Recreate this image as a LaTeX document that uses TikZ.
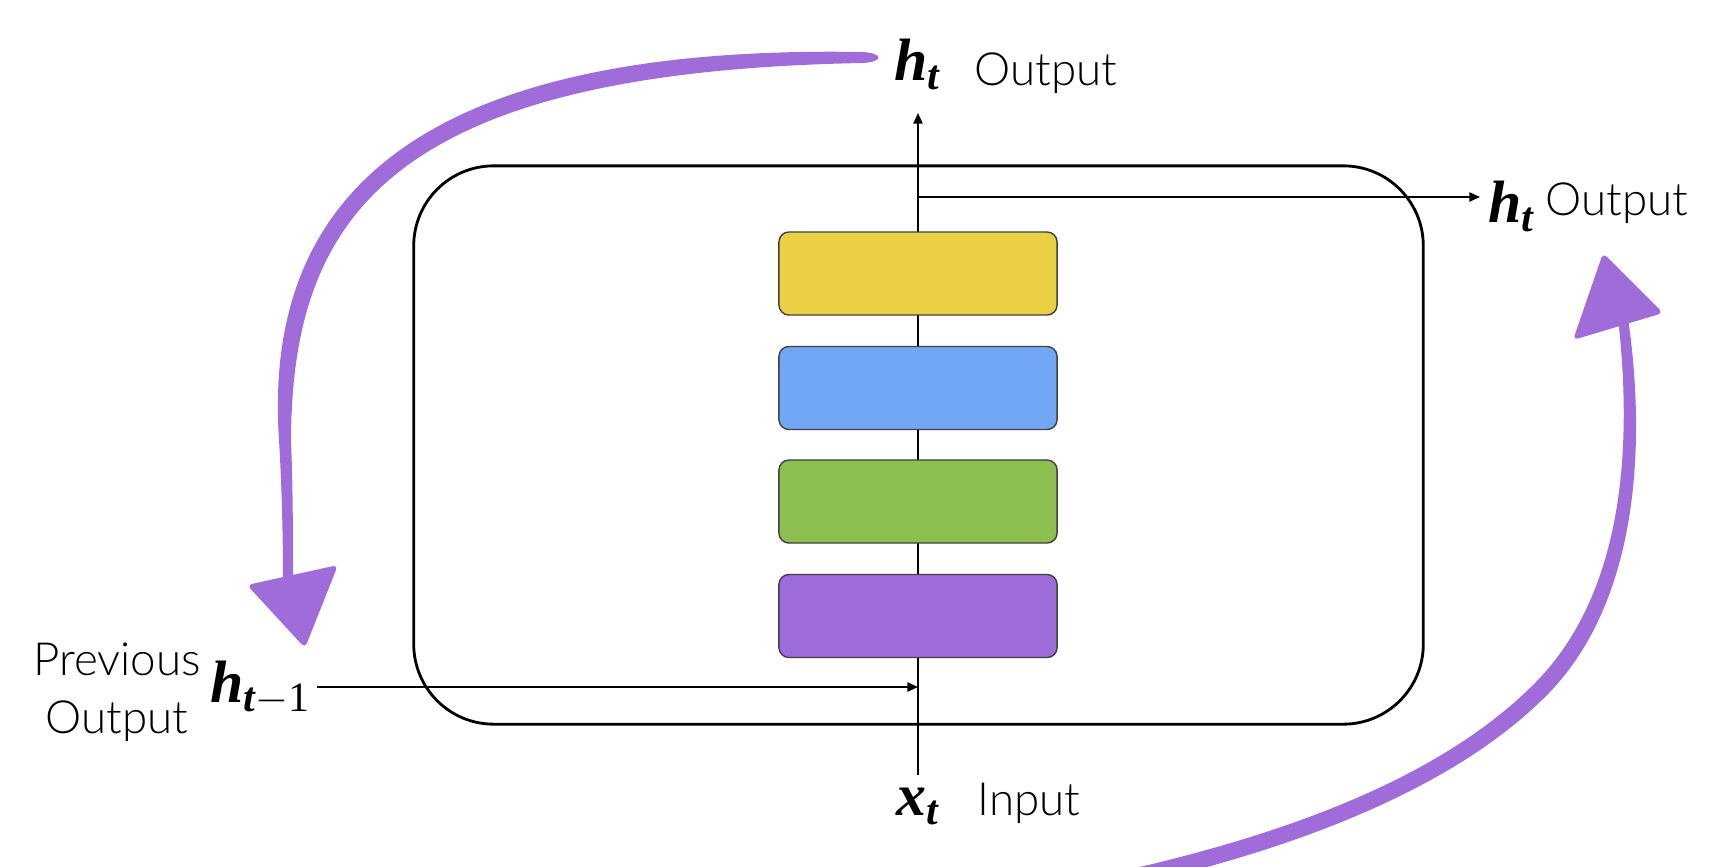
\documentclass[tikz,border=0pt]{standalone}
\usepackage{amsmath}
\usepackage{fontspec}
\usetikzlibrary{arrows.meta,positioning}
\IfFontExistsTF{Lato Light}{\newfontfamily\thinfont{Lato Light}}{\newfontfamily\thinfont{Lato}}
\newfontfamily\varfont{Liberation Serif}
\newcommand{\vsym}[1]{\text{\varfont\bfseries\itshape #1}}
\definecolor{gateyellow}{RGB}{234,208,66}
\definecolor{gateblue}{RGB}{114,167,245}
\definecolor{gategreen}{RGB}{140,190,80}
\definecolor{gatepurple}{RGB}{158,107,219}
\definecolor{brushpurple}{RGB}{160,108,218}

\begin{document}
\begin{tikzpicture}[x=0.01cm, y=-0.01cm,
    cell/.style={draw=black, line width=0.8pt, rounded corners=0.8cm, minimum width=10.09cm, minimum height=5.58cm},
    gate/.style={draw=black!75, line width=0.4pt, rounded corners=0.1cm, minimum width=2.78cm, minimum height=0.83cm},
    flow/.style={-{Triangle[length=3pt,width=2.6pt]}, line width=0.5pt},
    brush/.style={fill=brushpurple},
    var/.style={font=\fontsize{17}{20}\selectfont, inner sep=0pt},
    label/.style={font=\thinfont\fontsize{13}{16.5}\selectfont, inner sep=0pt}
]
\useasboundingbox (0,0) rectangle (1716,866);

% Cell
\node[cell] (cell) at (918.5,445) {};

% Data path
\coordinate (in) at (918,775);
\coordinate (join) at (918,687);
\coordinate (split) at (918,197);
\coordinate (out) at (918,113);
\coordinate (prevstart) at (317,687);
\draw[flow] (in) -- (out);

% Gates
\node[gate, fill=gateyellow] (yellowgate) at (918,273.5) {};
\node[gate, fill=gateblue] (bluegate) at (918,388) {};
\node[gate, fill=gategreen] (greengate) at (918,501.5) {};
\node[gate, fill=gatepurple] (purplegate) at (918,616) {};

% Labels
\node[var, anchor=base] (htop) at (918,80) {$\vsym{h}_{\vsym{t}}$};
\node[label, anchor=base west] (outtop) at (974,85) {Output};
\node[var, anchor=base west] (hright) at (1488,222) {$\vsym{h}_{\vsym{t}}$};
\node[label, anchor=base west] (outright) at (1545,215) {Output};
\node[var, anchor=base] (xt) at (918,815) {$\vsym{x}_{\vsym{t}}$};
\node[label, anchor=base west] (input) at (977,815) {Input};
\node[var, anchor=base west] (hprev) at (210,702) {$\vsym{h}_{\vsym{t}-\text{\varfont 1}}$};
\node[label, align=center, anchor=north] (prevlabel) at (117,642) {Previous\\Output};

% Connections
\draw[flow, shorten >=0.08cm] (split) -- (split -| hright.west);
\draw[flow] (prevstart) -- (join);

% Brush arrows
\fill[brush] (862,52) .. controls (392,44) and (264,215) .. (279,440)
  .. controls (282,490) and (283,540) .. (283,581) -- (293,580)
  .. controls (293,540) and (293,490) .. (291,440)
  .. controls (292,215) and (392,72) .. (862,63)
  .. controls (884,62) and (884,53) .. (862,52) -- cycle;
\fill[brush, rounded corners=0.05cm] (247,585) -- (338,565) -- (305,648) -- cycle;
\fill[brush] (1122,888) .. controls (1303,848) and (1456,786) .. (1546,696)
  .. controls (1637,605) and (1647,450) .. (1628,318) -- (1618,318)
  .. controls (1633,450) and (1623,595) .. (1534,684)
  .. controls (1444,774) and (1297,832) .. (1118,872) -- cycle;
\fill[brush, rounded corners=0.05cm] (1603,253) -- (1663,313) -- (1573,340) -- cycle;

\end{tikzpicture}
\end{document}
